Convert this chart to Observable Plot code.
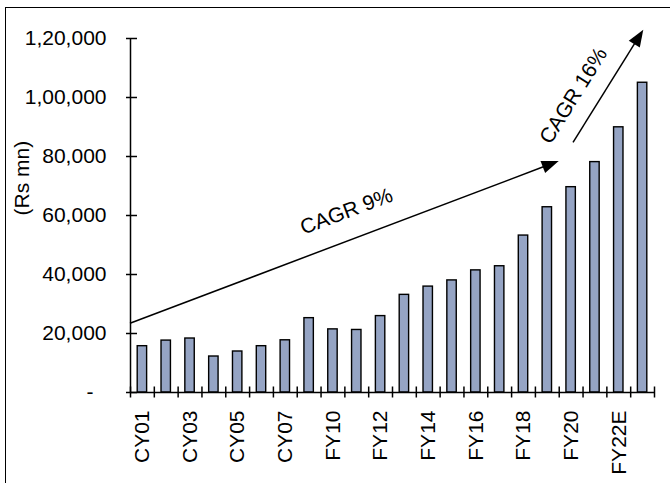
<!DOCTYPE html>
<html>
<head>
<meta charset="utf-8">
<script src="https://cdn.jsdelivr.net/npm/d3@7"></script>
<script src="https://cdn.jsdelivr.net/npm/@observablehq/plot@0.6"></script>
<style>
  html, body { margin: 0; padding: 0; background: #fff; }
  #wrap { position: relative; width: 670px; height: 483px; overflow: hidden; }
  #box { position: absolute; left: 5px; top: 7px; right: -4px; bottom: -4px;
         border-left: 1.5px solid #000; border-top: 1.5px solid #000; }
  #chart { position: absolute; left: 0; top: 0; }
</style>
</head>
<body>
<div id="wrap"><div id="box"></div><div id="chart"></div></div>
<script>
// Revenue by year (Rs mn)
const categories = ["CY01", "CY02", "CY03", "CY04", "CY05", "CY06", "CY07", "FY09",
  "FY10", "FY11", "FY12", "FY13", "FY14", "FY15", "FY16", "FY17", "FY18", "FY19",
  "FY20", "FY21", "FY22E", "FY23E"];
const revenue = [15700, 17600, 18300, 12200, 13900, 15700, 17700, 25200,
  21400, 21200, 25900, 33100, 35900, 38000, 41400, 42800, 53200, 62800,
  69600, 78100, 89900, 105000];
const yTicks = [0, 20000, 40000, 60000, 80000, 100000, 120000];

// Growth-trend annotations (x in year slots, y in Rs mn)
const cagrLabels = ["CAGR 9%", "CAGR 16%"];
const cagrFromSlot = [0, 18.6];
const cagrFromValue = [23300, 84600];
const cagrToSlot = [18.0, 21.55];
const cagrToValue = [78300, 122800];
const cagrTextSlot = [9.07, 18.6];
const cagrTextValue = [61400, 100600];

const FONT = 21;

// Indian digit grouping: 1,20,000
function indianFormat(v) {
  const s = String(Math.round(v));
  if (s.length <= 3) return s;
  const head = s.slice(0, -3), tail = s.slice(-3);
  return head.replace(/\B(?=(\d{2})+(?!\d))/g, ",") + "," + tail;
}

const n = categories.length;
const shownSlots = d3.range(0, n, 2).map(i => i + 0.5);

// Straight arrows with filled heads, placed through the plot scales
function trendArrows(index, scales) {
  const g = d3.create("svg:g");
  cagrLabels.forEach((_, i) => {
    const x1 = scales.x(cagrFromSlot[i]), y1 = scales.y(cagrFromValue[i]);
    const x2 = scales.x(cagrToSlot[i]), y2 = scales.y(cagrToValue[i]);
    const a = Math.atan2(y2 - y1, x2 - x1);
    const hl = 17, hw = 6.5;
    const bx = x2 - hl * Math.cos(a), by = y2 - hl * Math.sin(a);
    g.append("line")
      .attr("x1", x1).attr("y1", y1).attr("x2", bx + 2 * Math.cos(a)).attr("y2", by + 2 * Math.sin(a))
      .attr("stroke", "#000").attr("stroke-width", 1.5);
    g.append("polygon")
      .attr("points", [
        [x2, y2],
        [bx - hw * Math.sin(a), by + hw * Math.cos(a)],
        [bx + hw * Math.sin(a), by - hw * Math.cos(a)]
      ].map(p => p.join(",")).join(" "))
      .attr("fill", "#000");
  });
  return g.node();
}

const chart = Plot.plot({
  width: 670,
  height: 483,
  marginLeft: 130,
  marginRight: 16,
  marginTop: 38,
  marginBottom: 91,
  style: {
    fontFamily: "'Liberation Sans', Arial, sans-serif",
    fontSize: FONT + "px",
    color: "#000",
    background: "transparent"
  },
  x: { type: "linear", domain: [0, n], axis: null },
  y: { domain: [0, 120000], axis: null },
  marks: [
    Plot.rectY(revenue, {
      x1: (d, i) => i, x2: (d, i) => i + 1, y: d => d,
      insetLeft: 7.2, insetRight: 7.2,
      fill: "#95a4c4", stroke: "#000", strokeWidth: 1.4
    }),
    Plot.ruleX([0], { stroke: "#000", strokeWidth: 1.5 }),
    Plot.ruleY([0], { stroke: "#000", strokeWidth: 1.5 }),
    Plot.ruleY(yTicks, { x1: 0, x2: 0, insetLeft: -4, insetRight: -7, stroke: "#000", strokeWidth: 1.5 }),
    Plot.ruleX(d3.range(n + 1), { y1: 0, y2: 0, insetTop: -5.5, insetBottom: -5.5, stroke: "#000", strokeWidth: 1.5 }),
    Plot.axisY(yTicks.filter(v => v > 0), {
      tickSize: 0, tickPadding: 24, tickFormat: indianFormat, label: null, fontSize: FONT
    }),
    Plot.axisY([0], { tickSize: 0, tickPadding: 37, tickFormat: () => "-", label: null, fontSize: FONT }),
    Plot.axisX(shownSlots, {
      tickSize: 0, tickPadding: 18, tickRotate: -90,
      tickFormat: v => categories[Math.floor(v)], label: null, fontSize: FONT
    }),
    Plot.text(["(Rs mn)"], { frameAnchor: "left", dx: -108, rotate: -90, fill: "#000", fontSize: FONT }),
    trendArrows,
    Plot.text([cagrLabels[0]], {
      x: () => cagrTextSlot[0], y: () => cagrTextValue[0], rotate: -20.7, fill: "#000", fontSize: FONT
    }),
    Plot.text([cagrLabels[1]], {
      x: () => cagrTextSlot[1], y: () => cagrTextValue[1], rotate: -58, fill: "#000", fontSize: FONT
    })
  ]
});

document.getElementById("chart").appendChild(chart);
</script>
</body>
</html>
